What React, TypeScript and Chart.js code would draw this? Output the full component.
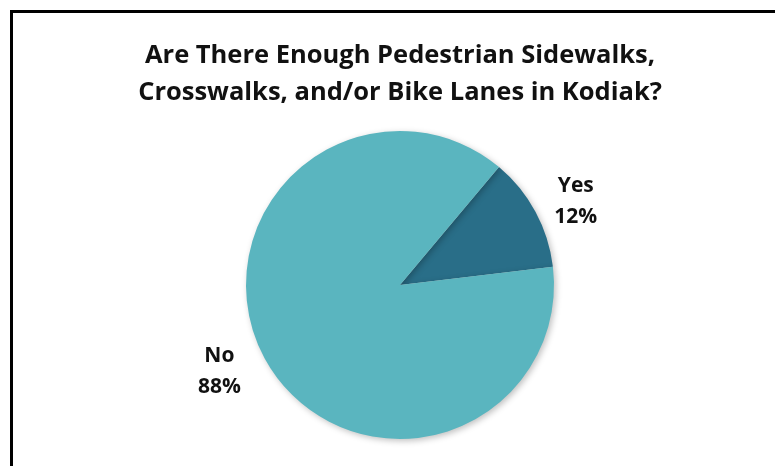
import React, { useEffect, useRef } from "react";
import { Chart, registerables } from "chart.js";

Chart.register(...registerables);

const titleLines = [
  "Are There Enough Pedestrian Sidewalks,",
  "Crosswalks, and/or Bike Lanes in Kodiak?",
];
const categories = ["Yes", "No"];
const values = [12, 88];
const colors = ["#296E88", "#5AB5BF"];
const FONT = "'Open Sans', Lato, sans-serif";

const shadowPlugin = {
  id: "sliceShadow",
  beforeDatasetsDraw(chart: any) {
    const ctx = chart.ctx;
    ctx.save();
    ctx.shadowColor = "rgba(0,0,0,0.25)";
    ctx.shadowBlur = 6;
    ctx.shadowOffsetX = 2;
    ctx.shadowOffsetY = 2;
  },
  afterDatasetsDraw(chart: any) {
    chart.ctx.restore();
  },
};

const labelDistance = [1.265, 1.3];

const labelPlugin = {
  id: "outerLabels",
  afterDatasetsDraw(chart: any) {
    const ctx = chart.ctx;
    const meta = chart.getDatasetMeta(0);
    const total = values.reduce((a, b) => a + b, 0);
    meta.data.forEach((arc: any, i: number) => {
      const { x, y, startAngle, endAngle, outerRadius } = arc.getProps(
        ["x", "y", "startAngle", "endAngle", "outerRadius"],
        true
      );
      const mid = (startAngle + endAngle) / 2 + 0.05;
      const r = outerRadius * labelDistance[i];
      const cx = x + Math.cos(mid) * r;
      const cy = y + Math.sin(mid) * r;
      ctx.save();
      ctx.fillStyle = "#111111";
      ctx.font = `bold 21px ${FONT}`;
      ctx.textAlign = "center";
      ctx.textBaseline = "middle";
      const pct = Math.round((values[i] / total) * 100) + "%";
      ctx.fillText(categories[i], cx, cy - 15);
      ctx.fillText(pct, cx, cy + 16);
      ctx.restore();
    });
  },
};

export default function App() {
  const ref = useRef<HTMLCanvasElement | null>(null);
  useEffect(() => {
    if (!ref.current) return;
    const chart = new Chart(ref.current, {
      type: "pie",
      data: {
        labels: categories,
        datasets: [
          {
            data: values,
            backgroundColor: colors,
            borderWidth: 0,
            hoverOffset: 0,
            offset: 0,
          },
        ],
      },
      options: {
        animation: false,
        responsive: false,
        rotation: 40,
        layout: { padding: { left: 9, right: 0, top: 0, bottom: 27 } },
        plugins: {
          legend: { display: false },
          tooltip: { enabled: false },
          title: {
            display: true,
            text: titleLines,
            color: "#111111",
            font: { family: FONT, size: 25.5, weight: "bold", lineHeight: 37 / 25.5 },
            padding: { top: 29, bottom: 20 },
          },
        },
      },
      plugins: [shadowPlugin, labelPlugin],
    });
    return () => chart.destroy();
  }, []);
  return (
    <div style={{ position: "relative", width: 775, height: 458, background: "#fff", overflow: "hidden" }}>
      <div
        style={{
          position: "absolute",
          left: 2,
          top: 2,
          right: -10,
          bottom: -10,
          borderTop: "3px solid #000",
          borderLeft: "3px solid #000",
        }}
      />
      <canvas ref={ref} width={775} height={458} style={{ position: "absolute", left: 0, top: 0 }} />
    </div>
  );
}
